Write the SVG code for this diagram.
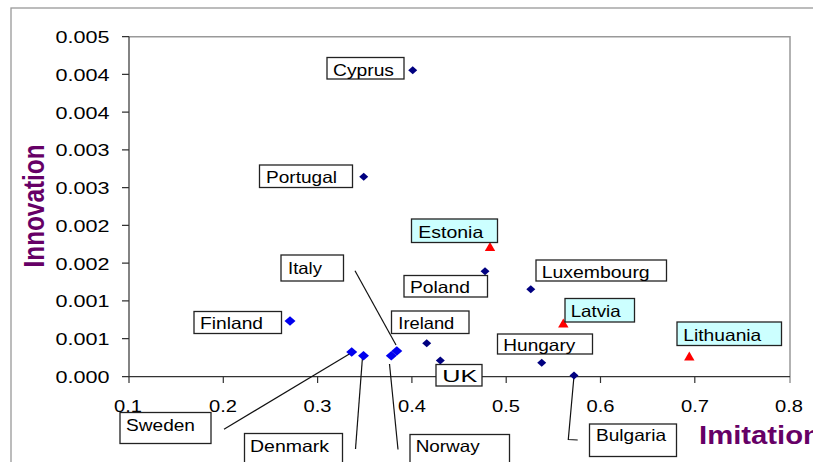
<svg xmlns="http://www.w3.org/2000/svg" width="813" height="462" viewBox="0 0 813 462">
<style>
text{font-family:"Liberation Sans",Arial,sans-serif;fill:#000}
.tick{font-size:16.5px}
.lbl rect{fill:#fff;stroke:#222;stroke-width:1.3}
.lbl.cy rect{fill:#ccffff}
.lbl text{font-size:16.5px}
.title{font-size:24px;font-weight:bold;fill:#660066}
.axis{stroke:#333;stroke-width:1.2;fill:none}
.frame{stroke:#999;stroke-width:1.5;fill:none}
.lead{stroke:#111;stroke-width:1.2;fill:none}
.nv{fill:#000080}
.bl{fill:#0000ee}
.rd{fill:#ff0000}
</style>
<defs>
<path id="dn" d="M0,-4 L4.5,0 L0,4 L-4.5,0Z"/>
<path id="db" d="M0,-4.8 L5.5,0 L0,4.8 L-5.5,0Z"/>
<path id="tr" d="M0,-5 L5.2,4 L-5.2,4Z"/>
</defs>
<rect x="0" y="0" width="813" height="462" fill="#fff"/>
<rect x="11" y="8" width="830" height="480" fill="none" stroke="#999" stroke-width="1.3"/>
<g id="plot">
<path class="frame" d="M129,36.7 H790 V383"/>
<path class="axis" d="M129,36.7 V376.7 H790"/>
<path class="axis" d="M122,36.7H129M122,74.4H129M122,112.2H129M122,149.9H129M122,187.7H129M122,225.4H129M122,263.2H129M122,300.9H129M122,338.7H129M122,376.7H129"/>
<path class="axis" d="M129,376.7V383M223.3,376.7V383M317.6,376.7V383M411.9,376.7V383M506.2,376.7V383M600.5,376.7V383M694.8,376.7V383"/>
<g class="tick">
<text x="55.5" y="43" textLength="54" lengthAdjust="spacingAndGlyphs">0.005</text>
<text x="55.5" y="80.7" textLength="54" lengthAdjust="spacingAndGlyphs">0.004</text>
<text x="55.5" y="118.5" textLength="54" lengthAdjust="spacingAndGlyphs">0.004</text>
<text x="55.5" y="156.2" textLength="54" lengthAdjust="spacingAndGlyphs">0.003</text>
<text x="55.5" y="194" textLength="54" lengthAdjust="spacingAndGlyphs">0.003</text>
<text x="55.5" y="231.7" textLength="54" lengthAdjust="spacingAndGlyphs">0.002</text>
<text x="55.5" y="269.5" textLength="54" lengthAdjust="spacingAndGlyphs">0.002</text>
<text x="55.5" y="307.2" textLength="54" lengthAdjust="spacingAndGlyphs">0.001</text>
<text x="55.5" y="345" textLength="54" lengthAdjust="spacingAndGlyphs">0.001</text>
<text x="55.5" y="383" textLength="54" lengthAdjust="spacingAndGlyphs">0.000</text>
</g>
<g class="tick">
<text x="114" y="411.5" textLength="28" lengthAdjust="spacingAndGlyphs">0.1</text>
<text x="209" y="411.5" textLength="28" lengthAdjust="spacingAndGlyphs">0.2</text>
<text x="303.5" y="411.5" textLength="28" lengthAdjust="spacingAndGlyphs">0.3</text>
<text x="398" y="411.5" textLength="28" lengthAdjust="spacingAndGlyphs">0.4</text>
<text x="492" y="411.5" textLength="28" lengthAdjust="spacingAndGlyphs">0.5</text>
<text x="586.5" y="411.5" textLength="28" lengthAdjust="spacingAndGlyphs">0.6</text>
<text x="681" y="411.5" textLength="28" lengthAdjust="spacingAndGlyphs">0.7</text>
<text x="775" y="411.5" textLength="28" lengthAdjust="spacingAndGlyphs">0.8</text>
</g>
<text class="title" transform="translate(44,206) rotate(-90) scale(1,1.2)" x="-61.5" y="0" textLength="123" lengthAdjust="spacingAndGlyphs">Innovation</text>
<text class="title" x="699" y="444.3" textLength="122" lengthAdjust="spacingAndGlyphs" style="font-size:25px">Imitation</text>
</g>
<g id="connectors">
<line class="lead" x1="355" y1="270.7" x2="396" y2="345"/>
<line class="lead" x1="224" y1="429.3" x2="351" y2="353"/>
<line class="lead" x1="355.5" y1="449" x2="362.5" y2="357"/>
<line class="lead" x1="398" y1="449.5" x2="389.5" y2="364"/>
<polyline class="lead" points="574,376 568.3,439.5 577.7,440"/>
</g>
<g id="points">
<use href="#dn" class="nv" x="412.7" y="70.3"/>
<use href="#dn" class="nv" x="363.7" y="176.7"/>
<use href="#dn" class="nv" x="485" y="271.3"/>
<use href="#dn" class="nv" x="530.8" y="289.3"/>
<use href="#db" class="bl" x="290" y="321"/>
<use href="#dn" class="nv" x="426.7" y="343.3"/>
<use href="#dn" class="nv" x="440.3" y="360.5"/>
<use href="#dn" class="nv" x="541.7" y="362.7"/>
<use href="#dn" class="nv" x="574" y="375.5"/>
<use href="#db" class="bl" x="351.7" y="352"/>
<use href="#db" class="bl" x="363.5" y="355.7"/>
<use href="#db" class="bl" x="391.3" y="355.8"/>
<use href="#db" class="bl" x="396.8" y="351"/>
<use href="#tr" class="rd" x="490" y="247"/>
<use href="#tr" class="rd" x="563.3" y="323.5"/>
<use href="#tr" class="rd" x="689.3" y="356.5"/>
</g>
<g id="cyprus" class="lbl"><rect x="327" y="57.5" width="77" height="21.5"/><text x="333" y="75.5" textLength="61" lengthAdjust="spacingAndGlyphs">Cyprus</text></g>
<g id="portugal" class="lbl"><rect x="259.5" y="165" width="93" height="22.5"/><text x="266" y="183" textLength="71" lengthAdjust="spacingAndGlyphs">Portugal</text></g>
<g id="estonia" class="lbl cy"><rect x="411.5" y="219" width="86" height="23.5"/><text x="418.3" y="237.5" textLength="65" lengthAdjust="spacingAndGlyphs">Estonia</text></g>
<g id="italy" class="lbl"><rect x="281" y="255" width="62.5" height="26"/><text x="288" y="274" textLength="34" lengthAdjust="spacingAndGlyphs">Italy</text></g>
<g id="poland" class="lbl"><rect x="404" y="275.5" width="83.5" height="21.5"/><text x="410" y="293.3" textLength="60" lengthAdjust="spacingAndGlyphs">Poland</text></g>
<g id="luxembourg" class="lbl"><rect x="536" y="260" width="130.5" height="21"/><text x="541.7" y="278.3" textLength="108" lengthAdjust="spacingAndGlyphs">Luxembourg</text></g>
<g id="latvia" class="lbl cy"><rect x="565" y="298.5" width="69.5" height="23.5"/><text x="570.7" y="316.7" textLength="50" lengthAdjust="spacingAndGlyphs">Latvia</text></g>
<g id="finland" class="lbl"><rect x="194" y="311.5" width="87.5" height="22"/><text x="200" y="329.3" textLength="63" lengthAdjust="spacingAndGlyphs">Finland</text></g>
<g id="ireland" class="lbl"><rect x="391.5" y="311" width="77.5" height="22.5"/><text x="398.3" y="329.3" textLength="56" lengthAdjust="spacingAndGlyphs">Ireland</text></g>
<g id="lithuania" class="lbl cy"><rect x="677" y="322" width="104.5" height="23.5"/><text x="683.3" y="340.7" textLength="78" lengthAdjust="spacingAndGlyphs">Lithuania</text></g>
<g id="hungary" class="lbl"><rect x="497.5" y="334" width="95" height="20"/><text x="503.3" y="351" textLength="72" lengthAdjust="spacingAndGlyphs">Hungary</text></g>
<g id="uk" class="lbl"><rect x="436" y="364.5" width="46" height="21.5"/><text x="442.3" y="381.7" textLength="35" lengthAdjust="spacingAndGlyphs">UK</text></g>
<g id="sweden" class="lbl"><rect x="120" y="412.5" width="91" height="31"/><text x="126" y="431" textLength="69" lengthAdjust="spacingAndGlyphs">Sweden</text></g>
<g id="denmark" class="lbl"><rect x="244.5" y="433.5" width="98" height="40"/><text x="250" y="451.7" textLength="79" lengthAdjust="spacingAndGlyphs">Denmark</text></g>
<g id="norway" class="lbl"><rect x="410" y="434.5" width="99.5" height="40"/><text x="415.7" y="451.7" textLength="64" lengthAdjust="spacingAndGlyphs">Norway</text></g>
<g id="bulgaria" class="lbl"><rect x="589.5" y="424" width="87" height="32.5"/><text x="596" y="440.7" textLength="70" lengthAdjust="spacingAndGlyphs">Bulgaria</text></g>
</svg>
